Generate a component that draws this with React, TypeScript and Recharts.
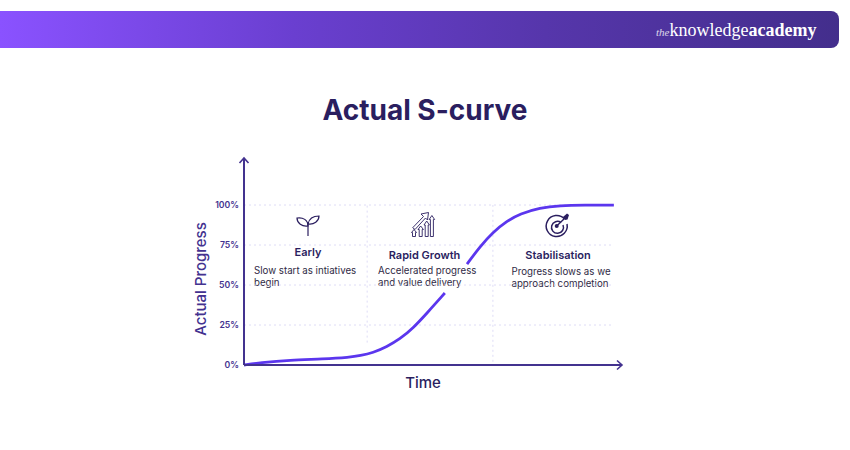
import React from 'react';
import { ComposedChart, Line, XAxis, YAxis, ReferenceLine, Label } from 'recharts';

const FONT = 'Inter, "Open Sans", sans-serif';
const NAVY = '#2a1e5f';
const AXIS = '#43328f';
const GRID = '#dedcf6';

const timeValues = [0, 4.3, 12.4, 21.4, 28.6, 31.4, 34.9, 38.6, 42.2, 45.7, 49.5, 54.3, 57, 60.3, 63.8, 67.3, 71.1, 74.6, 80, 85.4, 92, 100];
const progressValues = [0, 1.4, 3.1, 3.7, 4.8, 5.8, 7.7, 11.4, 16.3, 23, 32.5, 45, null, 63.1, 74, 83, 90, 94.5, 98.3, 99.7, 100, 100];
const yTicks = [0, 25, 50, 75, 100];
const gridValues = [25, 50, 75, 100];
const phaseLines = [
  { x: 33.3, bottom: 14 },
  { x: 67.3, bottom: 2 },
];

const data = timeValues.map((time, i) => ({ time, progress: progressValues[i] }));

const phases = [
  { title: 'Early', titleX: 308, titleY: 256, lines: ['Slow start as intiatives', 'begin'], textX: 254, textY: 273.5 },
  { title: 'Rapid Growth', titleX: 424.5, titleY: 259, lines: ['Accelerated progress', 'and value delivery'], textX: 378, textY: 273.5 },
  { title: 'Stabilisation', titleX: 558, titleY: 259, lines: ['Progress slows as we', 'approach completion'], textX: 511.5, textY: 274.5 },
];

const SproutIcon = () => (
  <g fill="none" stroke={NAVY} strokeWidth={1.2}>
    <path d="M308 236V222" />
    <path d="M308 226C302 227 297 223 297 218C303 217 308 220 308 226Z" />
    <path d="M308 224C309 219 313 216 319 216C319 221 314 225 308 224Z" />
  </g>
);

const GrowthIcon = () => (
  <g fill="none" stroke={NAVY} strokeWidth={0.9}>
    <path d="M412.7 227.7L423.5 216.5L421 214L428.5 212.5L427.5 220L425.5 218L415 229.5Z" />
    <path d="M411.5 232.5L414 229.5L416.5 232.5H415.5V236.5H412.5V232.5Z" />
    <path d="M418 229.5L420.7 226L423.4 229.5H422.2V236.5H419.2V229.5Z" />
    <path d="M424 225L426.7 221L429.4 225H428.2V236.5H425.2V225Z" />
    <path d="M429.2 219.5L431.9 215.5L434.6 219.5H433.4V236.5H430.4V219.5Z" />
  </g>
);

const TargetIcon = () => (
  <g fill="none" stroke={NAVY}>
    <path d="M564.5 219A10.5 10.5 0 1 0 567 224" strokeWidth={1.5} />
    <path d="M561 222.5A6 6 0 1 0 563 225" strokeWidth={1.5} />
    <circle cx={556.7} cy={226} r={2} fill={NAVY} stroke="none" />
    <path d="M556.7 226L565 218" strokeWidth={1.4} />
    <path d="M563 217L567 213.5L569 215L567.5 219.5L565 220Z" fill={NAVY} stroke="none" />
  </g>
);

export default function App() {
  return (
    <div style={{ position: 'absolute', left: 0, top: 0, width: 850, height: 450, background: '#fff', fontFamily: FONT, overflow: 'hidden' }}>
      <div style={{ position: 'absolute', left: 0, top: 11, width: 839, height: 37, borderRadius: '0 8px 8px 0', background: 'linear-gradient(90deg, #8a52ff 0%, #6a3fd0 35%, #5636ab 65%, #432e8c 100%)' }} />
      <div style={{ position: 'absolute', left: 656, top: 19, color: '#fff', fontFamily: '"Liberation Serif", serif', fontSize: 18, lineHeight: '22px', whiteSpace: 'nowrap' }}>
        <span style={{ fontStyle: 'italic', fontSize: 11, opacity: 0.8 }}>the</span>
        <span>knowledge</span>
        <span style={{ fontWeight: 700 }}>academy</span>
      </div>
      <div style={{ position: 'absolute', left: 0, width: 850, top: 92, textAlign: 'center', color: NAVY, fontSize: 28, lineHeight: '36px', fontWeight: 700 }}>
        Actual S-curve
      </div>
      <div style={{ position: 'absolute', left: 0, top: 0 }}>
        <ComposedChart width={850} height={450} data={data} margin={{ top: 158, right: 228, bottom: 55, left: 0 }}>
          <defs>
            <marker id="axisArrow" markerUnits="userSpaceOnUse" markerWidth={10} markerHeight={12} refX={7} refY={6} orient="auto-start-reverse">
              <path d="M2 1.5L7 6L2 10.5" fill="none" stroke={AXIS} strokeWidth={1.6} />
            </marker>
          </defs>
          <XAxis
            type="number"
            dataKey="time"
            domain={[0, 102.2]}
            ticks={[]}
            height={30}
            tick={false}
            tickLine={false}
            axisLine={{ stroke: AXIS, strokeWidth: 2, markerEnd: 'url(#axisArrow)' }}
          >
            <Label value="Time" position="insideTop" offset={12} dx={-10} fill={NAVY} fontSize={15} fontWeight={500} />
          </XAxis>
          <YAxis
            type="number"
            width={244}
            domain={[0, 129.4]}
            ticks={yTicks}
            interval={0}
            tickLine={false}
            tickSize={0}
            tickMargin={5}
            tickFormatter={(v) => `${v}%`}
            tick={{ fill: AXIS, fontSize: 8.7, fontWeight: 600 }}
            axisLine={{ stroke: AXIS, strokeWidth: 2, markerStart: 'url(#axisArrow)' }}
          />
          {gridValues.map((v) => (
            <ReferenceLine key={`h-${v}`} segment={[{ x: 0, y: v }, { x: 100, y: v }]} stroke={GRID} strokeDasharray="2 3" />
          ))}
          {phaseLines.map((p) => (
            <ReferenceLine key={`v-${p.x}`} segment={[{ x: p.x, y: p.bottom }, { x: p.x, y: 100 }]} stroke={GRID} strokeDasharray="2 3" />
          ))}
          <Line
            type="basis"
            dataKey="progress"
            stroke="#5b36ee"
            strokeWidth={2.8}
            dot={false}
            connectNulls={false}
            isAnimationActive={false}
          />
          <text x={202} y={279} transform="rotate(-90 202 279)" textAnchor="middle" dominantBaseline="middle" fill={AXIS} fontSize={15} fontWeight={500}>
            Actual Progress
          </text>
          <SproutIcon />
          <GrowthIcon />
          <TargetIcon />
          {phases.map((p) => (
            <g key={p.title}>
              <text x={p.titleX} y={p.titleY} textAnchor="middle" fill={NAVY} fontSize={11} fontWeight={600}>{p.title}</text>
              {p.lines.map((line, i) => (
                <text key={line} x={p.textX} y={p.textY + i * 12.5} fill="#2f2a45" fontSize={9.7}>{line}</text>
              ))}
            </g>
          ))}
        </ComposedChart>
      </div>
    </div>
  );
}
